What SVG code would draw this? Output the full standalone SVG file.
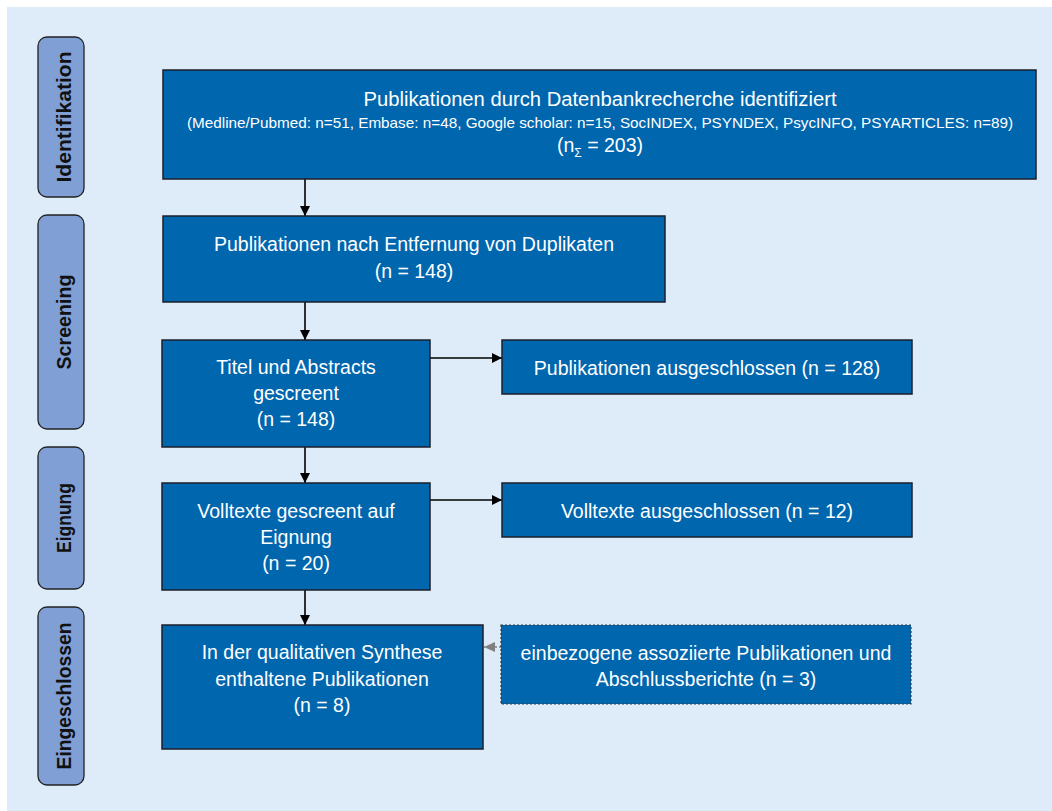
<svg xmlns="http://www.w3.org/2000/svg" width="1052" height="811" viewBox="0 0 1052 811">
<style>
.bg{fill:#deebf8}
.phase{fill:#7f9fd5;stroke:#222;stroke-width:1.3}
.phase-t{font-family:"Liberation Sans",Arial,sans-serif;font-weight:bold;font-size:21px;fill:#111;text-anchor:middle}
.box{fill:#0066ae;stroke:#1b1f2a;stroke-width:1.5}
.box-d{fill:#0066ae;stroke:#3a3a3a;stroke-width:1.2;stroke-dasharray:2 2}
.t{font-family:"Liberation Sans",Arial,sans-serif;font-size:19.5px;fill:#fff;text-anchor:middle}
.ts{font-family:"Liberation Sans",Arial,sans-serif;font-size:15px;fill:#fff;text-anchor:middle}
.c{stroke:#000;stroke-width:1.6;fill:none}
.cg{stroke:#808080;stroke-width:1.3;fill:none;stroke-dasharray:2 2}
</style>
<defs>
<marker id="ah" markerWidth="10" markerHeight="10" refX="10" refY="5" orient="auto" markerUnits="userSpaceOnUse">
<path d="M0,0 L10,5 L0,10 Z" fill="#000"/>
</marker>
<marker id="ahg" markerWidth="11" markerHeight="10" refX="11" refY="5" orient="auto" markerUnits="userSpaceOnUse">
<path d="M0,0 L11,5 L0,10 Z" fill="#808080"/>
</marker>
</defs>
<rect class="bg" x="7" y="7" width="1045" height="804"/>

<g id="phase-identifikation">
<rect class="phase" x="38" y="37" width="46" height="160" rx="9"/>
<text class="phase-t" transform="translate(70.5,117) rotate(-90)" textLength="131" lengthAdjust="spacingAndGlyphs">Identifikation</text>
</g>
<g id="phase-screening">
<rect class="phase" x="38" y="215" width="46" height="214" rx="9"/>
<text class="phase-t" transform="translate(70.5,322) rotate(-90)" textLength="95" lengthAdjust="spacingAndGlyphs">Screening</text>
</g>
<g id="phase-eignung">
<rect class="phase" x="38" y="447" width="46" height="142" rx="9"/>
<text class="phase-t" transform="translate(70.5,518) rotate(-90)" textLength="70" lengthAdjust="spacingAndGlyphs">Eignung</text>
</g>
<g id="phase-eingeschlossen">
<rect class="phase" x="38" y="607" width="46" height="178" rx="9"/>
<text class="phase-t" transform="translate(70.5,696) rotate(-90)" textLength="147" lengthAdjust="spacingAndGlyphs">Eingeschlossen</text>
</g>

<g id="connectors">
<line class="c" x1="305" y1="179" x2="305" y2="216" marker-end="url(#ah)"/>
<line class="c" x1="305" y1="302" x2="305" y2="340" marker-end="url(#ah)"/>
<line class="c" x1="430" y1="358" x2="502" y2="358" marker-end="url(#ah)"/>
<line class="c" x1="305" y1="447" x2="305" y2="483" marker-end="url(#ah)"/>
<line class="c" x1="430" y1="500" x2="502" y2="500" marker-end="url(#ah)"/>
<line class="c" x1="305" y1="590" x2="305" y2="625" marker-end="url(#ah)"/>
<line class="cg" x1="501" y1="647" x2="484" y2="647" marker-end="url(#ahg)"/>
</g>

<g id="node-datenbank">
<rect class="box" x="163" y="70" width="873" height="109"/>
<text class="t" x="600" y="106" textLength="473" lengthAdjust="spacingAndGlyphs">Publikationen durch Datenbankrecherche identifiziert</text>
<text class="ts" x="600" y="128" textLength="826" lengthAdjust="spacingAndGlyphs">(Medline/Pubmed: n=51, Embase: n=48, Google scholar: n=15, SocINDEX, PSYNDEX, PsycINFO, PSYARTICLES: n=89)</text>
<text class="t" x="600" y="152">(n<tspan font-size="12" dy="5">Σ</tspan><tspan dy="-5"> = 203)</tspan></text>
</g>

<g id="node-duplikate">
<rect class="box" x="163" y="216" width="502" height="86"/>
<text class="t" x="414" y="251">Publikationen nach Entfernung von Duplikaten</text>
<text class="t" x="414" y="278">(n = 148)</text>
</g>

<g id="node-titel">
<rect class="box" x="162" y="340" width="268" height="107"/>
<text class="t" x="296" y="374">Titel und Abstracts</text>
<text class="t" x="296" y="400">gescreent</text>
<text class="t" x="296" y="426">(n = 148)</text>
</g>

<g id="node-ausgeschlossen-128">
<rect class="box" x="502" y="340" width="410" height="54"/>
<text class="t" x="707" y="375">Publikationen ausgeschlossen (n = 128)</text>
</g>

<g id="node-volltexte">
<rect class="box" x="162" y="483" width="268" height="107"/>
<text class="t" x="296" y="518">Volltexte gescreent auf</text>
<text class="t" x="296" y="544">Eignung</text>
<text class="t" x="296" y="570">(n = 20)</text>
</g>

<g id="node-ausgeschlossen-12">
<rect class="box" x="502" y="483" width="410" height="54"/>
<text class="t" x="707" y="518">Volltexte ausgeschlossen (n = 12)</text>
</g>

<g id="node-synthese">
<rect class="box" x="162" y="625" width="321" height="124"/>
<text class="t" x="322" y="659">In der qualitativen Synthese</text>
<text class="t" x="322" y="686">enthaltene Publikationen</text>
<text class="t" x="322" y="712">(n = 8)</text>
</g>

<g id="node-assoziiert">
<rect class="box-d" x="501" y="625" width="410" height="79"/>
<text class="t" x="706" y="660">einbezogene assoziierte Publikationen und</text>
<text class="t" x="706" y="686">Abschlussberichte (n = 3)</text>
</g>
</svg>
